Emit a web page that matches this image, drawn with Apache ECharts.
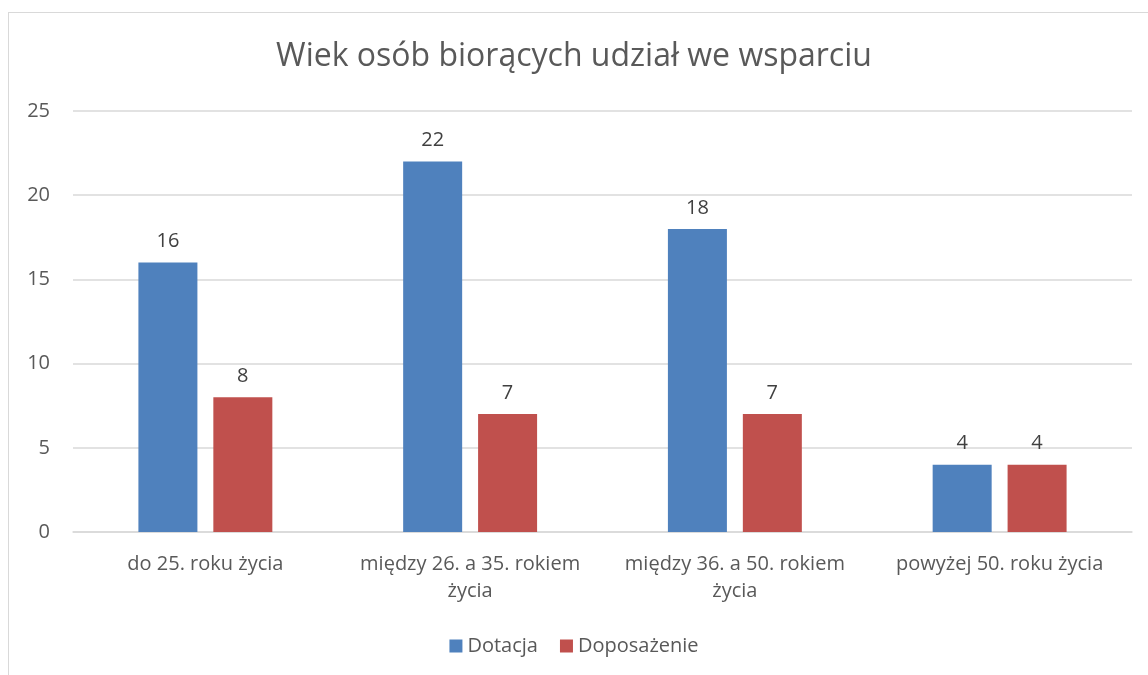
<!DOCTYPE html>
<html>
<head>
<meta charset="utf-8">
<script src="https://cdn.jsdelivr.net/npm/echarts@6/dist/echarts.min.js"></script>
<style>
  html, body { margin: 0; padding: 0; background: #fff; }
  #frame {
    position: absolute; left: 8px; top: 12px; width: 1160px; height: 700px;
    border: 1px solid #d9d9d9; box-sizing: border-box;
  }
  #chart { position: absolute; left: 0; top: 0; width: 1148px; height: 675px; }
</style>
</head>
<body>
<div id="frame"></div>
<div id="chart"></div>
<script>
// dane z wykresu
var categories = ['do 25. roku życia', 'między 26. a 35. rokiem\nżycia', 'między 36. a 50. rokiem\nżycia', 'powyżej 50. roku życia'];
var dotacja = [16, 22, 18, 4];
var doposazenie = [8, 7, 7, 4];
var seriesNames = ['Dotacja', 'Doposażenie'];
var yTicks = { min: 0, max: 25, interval: 5 };

var font = '"Open Sans", "Noto Sans", sans-serif';
var textColor = '#595959';

var myChart = echarts.init(document.getElementById('chart'));
var option = {
  animation: false,
  title: {
    text: 'Wiek osób biorących udział we wsparciu',
    left: 'center',
    top: 36,
    textStyle: { fontFamily: font, fontSize: 32, fontWeight: 'normal', color: textColor }
  },
  legend: {
    bottom: 14,
    left: 'center',
    itemWidth: 13,
    itemHeight: 13,
    itemGap: 22,
    icon: 'rect',
    textStyle: { fontFamily: font, fontSize: 20, color: textColor },
    data: seriesNames
  },
  grid: { left: 73, right: 16, top: 111, bottom: 143 },
  xAxis: {
    type: 'category',
    data: categories,
    axisLine: { lineStyle: { color: '#d9d9d9', width: 1.5 } },
    axisTick: { show: false },
    axisLabel: { fontFamily: font, fontSize: 20, color: textColor, margin: 19, lineHeight: 27, interval: 0 }
  },
  yAxis: {
    type: 'value',
    min: yTicks.min,
    max: yTicks.max,
    interval: yTicks.interval,
    axisLine: { show: false },
    axisTick: { show: false },
    splitLine: { lineStyle: { color: '#d9d9d9', width: 1.5 } },
    axisLabel: { fontFamily: font, fontSize: 20, color: textColor, margin: 23 }
  },
  series: [
    {
      name: seriesNames[0],
      type: 'bar',
      data: dotacja,
      barWidth: 59,
      barGap: '27%',
      itemStyle: { color: '#4f81bd' },
      label: { show: true, position: 'top', distance: 11, fontFamily: font, fontSize: 20, color: '#404040' }
    },
    {
      name: seriesNames[1],
      type: 'bar',
      data: doposazenie,
      barWidth: 59,
      barGap: '27%',
      itemStyle: { color: '#c0504d' },
      label: { show: true, position: 'top', distance: 11, fontFamily: font, fontSize: 20, color: '#404040' }
    }
  ]
};
myChart.setOption(option);
</script>
</body>
</html>
